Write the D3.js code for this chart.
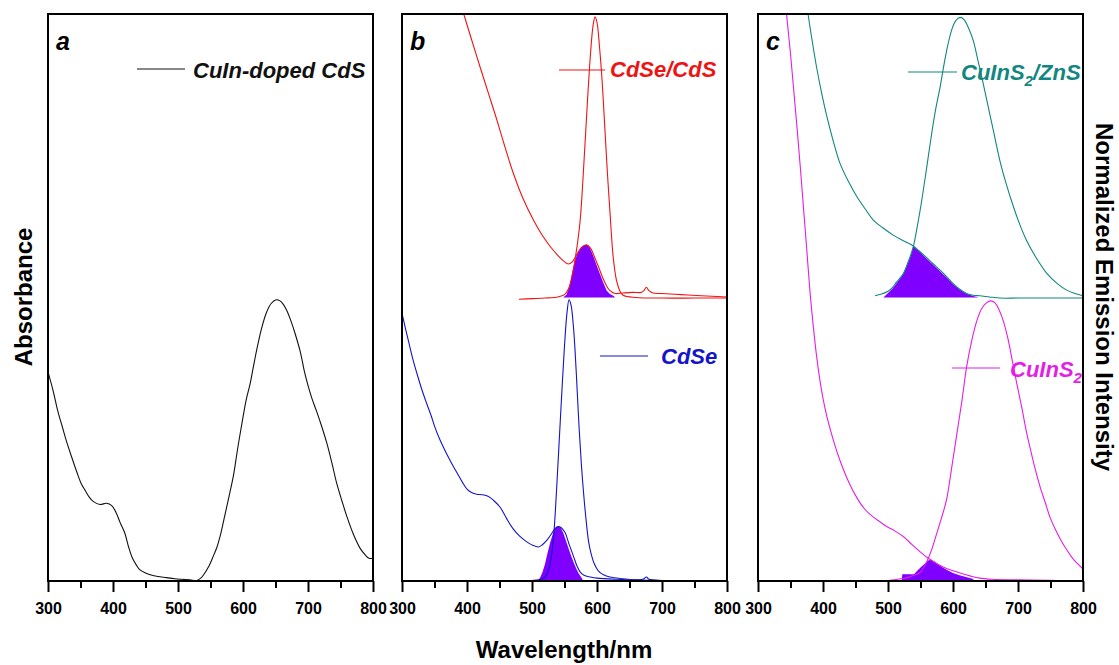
<!DOCTYPE html>
<html>
<head>
<meta charset="utf-8">
<script src="https://cdn.jsdelivr.net/npm/d3@7"></script>
<style>
  body { margin: 0; background: #fff; }
  text { font-family: "Liberation Sans", Arial, sans-serif; }
</style>
</head>
<body>
<svg id="fig" width="1119" height="665"></svg>
<script>
(function(){

  // ---- data: [wavelength nm, normalized value] ----
  var majorTicks = [300, 400, 500, 600, 700, 800];
  var minorTicks = [350, 450, 550, 650, 750];

  var cuinCdsAbs = [[300,0.369],[308,0.335],[315,0.30],[322,0.272],[328,0.248],[336,0.22],[345,0.19],[351,0.172],[357,0.16],[364,0.147],[370,0.14],[380,0.135],[390,0.137],[398,0.133],[405,0.12],[411,0.103],[418,0.085],[424,0.06],[430,0.04],[436,0.028],[441,0.020],[450,0.014],[460,0.01],[470,0.008],[482,0.006],[495,0.004],[505,0.003],[518,0.002],[529,0.001],[535,0.005],[540,0.012],[547,0.025],[554,0.043],[560,0.06],[565,0.08],[570,0.105],[575,0.131],[580,0.157],[585,0.184],[592,0.235],[600,0.289],[605,0.32],[611,0.348],[616,0.378],[621,0.407],[628,0.443],[636,0.473],[643,0.489],[651,0.496],[657,0.494],[662,0.488],[667,0.478],[674,0.458],[680,0.437],[688,0.405],[694,0.372],[700,0.345],[706,0.322],[713,0.300],[721,0.273],[729,0.243],[737,0.207],[744,0.173],[752,0.142],[760,0.113],[770,0.082],[780,0.058],[788,0.046],[794,0.04],[800,0.04]];

  var cdseCdsAbs = [[385,1.04],[395,1.0],[407,0.955],[420,0.907],[433,0.860],[446,0.813],[458,0.767],[471,0.720],[486,0.675],[502,0.637],[515,0.611],[528,0.590],[540,0.574],[548,0.565],[556,0.559],[562,0.563],[567,0.572],[572,0.582],[578,0.590],[584,0.593],[590,0.587],[596,0.572],[602,0.555],[608,0.537],[614,0.522],[620,0.512],[628,0.507],[640,0.508],[655,0.509],[668,0.509],[672,0.512],[676,0.518],[680,0.512],[686,0.508],[700,0.507],[730,0.505],[760,0.503],[800,0.501]];
  var cdseCdsEm = [[480,0.497],[500,0.498],[520,0.499],[540,0.501],[550,0.505],[556,0.515],[562,0.54],[568,0.58],[574,0.635],[580,0.74],[585,0.84],[590,0.93],[594,0.98],[597,0.995],[600,0.985],[604,0.94],[608,0.88],[612,0.80],[616,0.72],[620,0.65],[625,0.57],[630,0.53],[635,0.512],[640,0.504],[660,0.500],[700,0.499],[750,0.499],[800,0.499]];
  var cdseCdsOverlap = [[548,0.5],[553,0.505],[558,0.52],[562,0.545],[566,0.565],[570,0.578],[575,0.588],[580,0.592],[584,0.593],[588,0.59],[592,0.58],[596,0.568],[600,0.555],[605,0.54],[610,0.525],[615,0.512],[620,0.506],[625,0.503],[628,0.5]];

  var cdseAbs = [[300,0.472],[305,0.447],[311,0.418],[317,0.390],[324,0.362],[331,0.336],[338,0.313],[345,0.291],[351,0.270],[358,0.250],[365,0.233],[372,0.217],[379,0.202],[386,0.188],[393,0.174],[400,0.162],[407,0.156],[415,0.153],[424,0.152],[433,0.149],[441,0.142],[451,0.130],[461,0.110],[471,0.092],[481,0.079],[492,0.069],[501,0.063],[510,0.060],[516,0.064],[523,0.072],[531,0.085],[536,0.093],[540,0.096],[545,0.094],[551,0.085],[557,0.065],[564,0.043],[569,0.027],[574,0.016],[580,0.010],[590,0.007],[600,0.005],[630,0.003],[665,0.002],[672,0.004],[676,0.007],[680,0.003],[700,0.001],[800,0.0]];
  var cdseEm = [[480,0.0],[500,0.001],[510,0.002],[516,0.004],[520,0.007],[525,0.018],[530,0.045],[534,0.09],[538,0.165],[542,0.25],[546,0.335],[550,0.415],[554,0.475],[557,0.496],[560,0.487],[564,0.445],[568,0.37],[572,0.28],[576,0.205],[579,0.16],[583,0.11],[587,0.07],[591,0.048],[596,0.03],[602,0.018],[610,0.011],[620,0.007],[640,0.004],[660,0.002],[700,0.001],[800,0]];
  var cdseOverlap = [[508,0],[512,0.005],[516,0.015],[520,0.03],[524,0.05],[528,0.068],[532,0.083],[536,0.093],[540,0.097],[544,0.094],[548,0.085],[552,0.072],[556,0.058],[560,0.045],[564,0.033],[568,0.022],[572,0.013],[576,0.006],[579,0]];

  var cuinsZnsAbs = [[370,1.06],[377,1.0],[383,0.955],[390,0.907],[398,0.86],[406,0.819],[416,0.775],[426,0.737],[439,0.705],[452,0.678],[465,0.656],[477,0.637],[492,0.623],[508,0.610],[522,0.601],[536,0.593],[552,0.578],[569,0.560],[585,0.543],[600,0.525],[611,0.514],[621,0.507],[631,0.504],[641,0.503],[656,0.501],[672,0.499],[700,0.499],[750,0.499],[800,0.499]];
  var cuinsZnsEm = [[480,0.503],[490,0.506],[500,0.511],[507,0.518],[513,0.527],[519,0.535],[524,0.543],[530,0.56],[535,0.575],[539,0.59],[545,0.625],[552,0.672],[559,0.725],[566,0.78],[573,0.83],[580,0.87],[586,0.91],[592,0.945],[598,0.972],[604,0.988],[611,0.994],[617,0.99],[624,0.975],[631,0.954],[638,0.92],[645,0.885],[652,0.848],[662,0.795],[672,0.742],[682,0.70],[693,0.66],[703,0.628],[713,0.601],[728,0.57],[744,0.543],[760,0.525],[775,0.513],[788,0.507],[800,0.503]];
  var cuinsZnsOverlap = [[493,0.5],[500,0.508],[507,0.516],[513,0.525],[519,0.534],[524,0.543],[530,0.558],[535,0.574],[539,0.591],[545,0.584],[552,0.577],[560,0.568],[569,0.558],[577,0.55],[585,0.541],[593,0.532],[600,0.524],[610,0.514],[620,0.507],[630,0.503],[639,0.5]];

  var cuinsAbs = [[340,1.06],[344,1.0],[350,0.93],[355,0.865],[360,0.8],[365,0.731],[370,0.658],[375,0.585],[380,0.51],[385,0.45],[390,0.398],[395,0.356],[400,0.322],[406,0.29],[416,0.248],[426,0.213],[439,0.176],[452,0.147],[464,0.127],[477,0.113],[488,0.104],[498,0.096],[511,0.088],[524,0.078],[537,0.064],[550,0.051],[562,0.040],[576,0.03],[590,0.022],[600,0.018],[611,0.014],[626,0.009],[641,0.005],[660,0.003],[700,0.002],[800,0]];
  var cuinsEm = [[500,0.001],[520,0.004],[530,0.006],[540,0.01],[549,0.015],[556,0.026],[562,0.040],[568,0.058],[575,0.084],[582,0.11],[590,0.143],[598,0.2],[606,0.26],[614,0.32],[621,0.378],[629,0.425],[637,0.46],[644,0.48],[651,0.49],[658,0.494],[665,0.49],[671,0.478],[677,0.46],[684,0.43],[691,0.39],[698,0.349],[706,0.305],[713,0.263],[720,0.228],[727,0.195],[734,0.166],[742,0.138],[749,0.113],[757,0.092],[766,0.072],[775,0.055],[784,0.04],[792,0.03],[800,0.021]];
  var cuinsOverlap = [[521,0],[522,0.012],[540,0.012],[545,0.018],[550,0.024],[556,0.03],[562,0.036],[566,0.038],[572,0.034],[580,0.027],[590,0.02],[600,0.014],[610,0.01],[620,0.007],[630,0.004],[634,0]];

  var black = '#111', red = '#ee1414', blue = '#1414c8', teal = '#128680', magenta = '#e41ee4', violet = '#8000ff';

  var panels = [
    {label: 'a', left: 48, lines: [{d: cuinCdsAbs, c: black}], fills: [],
     legends: [{parts: [['CuIn-doped CdS']], c: black, x1: 137, x2: 185, ly: 69, tx: 193, ty: 78}]},
    {label: 'b', left: 402, lines: [{d: cdseCdsAbs, c: red}, {d: cdseCdsEm, c: red}, {d: cdseAbs, c: blue}, {d: cdseEm, c: blue}],
     fills: [{d: cdseCdsOverlap, base: 0.5}, {d: cdseOverlap, base: 0}],
     legends: [{parts: [['CdSe/CdS']], c: red, x1: 559, x2: 605, ly: 70, tx: 610, ty: 77},
               {parts: [['CdSe']], c: blue, x1: 600, x2: 648, ly: 356, tx: 661, ty: 364}]},
    {label: 'c', left: 758, lines: [{d: cuinsZnsAbs, c: teal}, {d: cuinsZnsEm, c: teal}, {d: cuinsAbs, c: magenta}, {d: cuinsEm, c: magenta}],
     fills: [{d: cuinsZnsOverlap, base: 0.5}, {d: cuinsOverlap, base: 0}],
     legends: [{parts: [['CuInS'], ['2', 'sub'], ['/ZnS']], c: teal, x1: 908, x2: 957, ly: 72, tx: 961, ty: 80},
               {parts: [['CuInS'], ['2', 'sub']], c: magenta, x1: 952, x2: 1000, ly: 368, tx: 1010, ty: 377}]}
  ];

  var width = 325, top = 14, bottom = 581;
  var svg = d3.select('#fig');

  panels.forEach(function(p, i) {
    var x = d3.scaleLinear().domain([300, 800]).range([p.left, p.left + width]);
    var y = d3.scaleLinear().domain([0, 1]).range([bottom, top]);
    var clipId = 'clip' + i;

    svg.append('clipPath').attr('id', clipId)
      .append('rect')
      .attr('x', p.left).attr('y', top)
      .attr('width', width).attr('height', bottom - top);

    var g = svg.append('g').attr('clip-path', 'url(#' + clipId + ')');

    p.fills.forEach(function(f) {
      var area = d3.area()
        .x(function(d) { return x(d[0]); })
        .y0(y(f.base))
        .y1(function(d) { return y(d[1]); })
        .curve(d3.curveLinear);
      g.append('path').datum(f.d)
        .attr('d', area)
        .attr('fill', violet);
    });

    var line = d3.line()
      .x(function(d) { return x(d[0]); })
      .y(function(d) { return y(d[1]); })
      .curve(d3.curveCatmullRom.alpha(0.5));

    p.lines.forEach(function(s) {
      g.append('path').datum(s.d)
        .attr('d', line)
        .attr('fill', 'none')
        .attr('stroke', s.c)
        .attr('stroke-width', 1.1);
    });

    // bottom axis, major + minor ticks
    var major = svg.append('g')
      .attr('transform', 'translate(0,' + bottom + ')')
      .call(d3.axisBottom(x).tickValues(majorTicks).tickSize(11).tickSizeOuter(0).tickPadding(11).tickFormat(d3.format('d')));
    major.select('.domain').remove();
    major.selectAll('line').attr('stroke', '#000').attr('stroke-width', 2);
    major.selectAll('text').attr('fill', '#000')
      .style('font-family', '"Liberation Sans", Arial, sans-serif')
      .style('font-size', '16px').style('font-weight', 'bold');

    var minor = svg.append('g')
      .attr('transform', 'translate(0,' + bottom + ')')
      .call(d3.axisBottom(x).tickValues(minorTicks).tickSize(7).tickSizeOuter(0).tickFormat(''));
    minor.select('.domain').remove();
    minor.selectAll('line').attr('stroke', '#000').attr('stroke-width', 2);

    svg.append('rect')
      .attr('x', p.left).attr('y', top)
      .attr('width', width).attr('height', bottom - top)
      .attr('fill', 'none').attr('stroke', '#000').attr('stroke-width', 2);

    svg.append('text')
      .attr('x', p.left + 8).attr('y', 50)
      .style('font-size', '25px').style('font-weight', 'bold').style('font-style', 'italic')
      .text(p.label);

    p.legends.forEach(function(l) {
      svg.append('line')
        .attr('x1', l.x1).attr('x2', l.x2).attr('y1', l.ly).attr('y2', l.ly)
        .attr('stroke', l.c).attr('stroke-width', 1.1);
      var t = svg.append('text')
        .attr('x', l.tx).attr('y', l.ty)
        .attr('fill', l.c)
        .style('font-size', '22px').style('font-weight', 'bold').style('font-style', 'italic');
      var shift = 0;
      l.parts.forEach(function(pt) {
        var isSub = pt[1] === 'sub';
        var dy = isSub ? 6 - shift : -shift;
        shift = isSub ? 6 : 0;
        t.append('tspan').attr('dy', dy)
          .style('font-size', isSub ? '15px' : '22px')
          .text(pt[0]);
      });
    });
  });

  svg.append('text')
    .attr('transform', 'translate(32,297) rotate(-90)')
    .attr('text-anchor', 'middle')
    .style('font-size', '24px').style('font-weight', 'bold')
    .text('Absorbance');

  svg.append('text')
    .attr('transform', 'translate(1096,297) rotate(90)')
    .attr('text-anchor', 'middle')
    .style('font-size', '24px').style('font-weight', 'bold')
    .text('Normalized Emission Intensity');

  svg.append('text')
    .attr('x', 564).attr('y', 658)
    .attr('text-anchor', 'middle')
    .style('font-size', '24px').style('font-weight', 'bold')
    .text('Wavelength/nm');

})();
</script>
</body>
</html>
